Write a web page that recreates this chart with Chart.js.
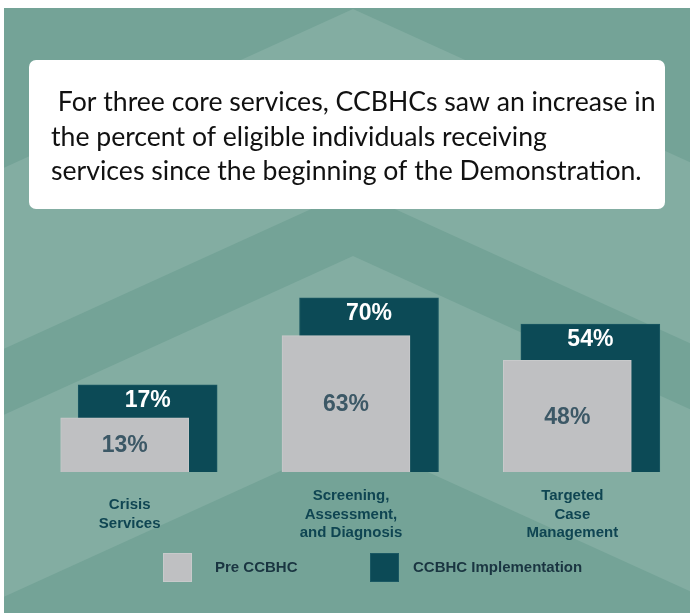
<!DOCTYPE html>
<html>
<head>
<meta charset="utf-8">
<title>CCBHC core services</title>
<script src="https://cdn.jsdelivr.net/npm/chart.js@4.4.1/dist/chart.umd.min.js"></script>
<style>
  html, body { margin: 0; padding: 0; background: #ffffff; }
  #wrap { position: relative; width: 690px; height: 613px; }
  canvas { display: block; }
</style>
</head>
<body>
<div id="wrap"><canvas id="chart" width="690" height="613"></canvas></div>
<script>
// ---- data ----
const titleLines = [
  " For three core services, CCBHCs saw an increase in",
  "the percent of eligible individuals receiving",
  "services since the beginning of the Demonstration."
];
const categories = [
  ["Crisis", "Services"],
  ["Screening,", "Assessment,", "and Diagnosis"],
  ["Targeted", "Case", "Management"]
];
const seriesNames = ["Pre CCBHC", "CCBHC Implementation"];
const preValues = [13, 63, 48];
const implValues = [17, 70, 54];

// ---- styling ----
const COLORS = {
  pre: '#bfc0c2',
  preEdge: '#c8cacb',
  impl: '#0c4a56',
  implEdge: '#1a5863',
  preText: '#3c5866',
  implText: '#ffffff',
  category: '#0f4552',
  legend: '#1a3541',
  base: '#74a397',
  band: '#83ada2',
  page: '#ffffff',
  titleText: '#111111'
};
const SANS_BOLD = '"Liberation Sans", Arial, sans-serif';
const TITLE_FONT = 'Lato, "Open Sans", sans-serif';

// value ranges of the two (hidden) value axes; bars rise from each axis floor
const preAxis = { min: -20, max: 115 };
const implAxis = { min: -36, max: 99 };
// the implementation bars sit a little to the right of the pre bars
const implShift = 0.104;

// chevron backdrop: light bands between pairs of apex heights
const backdrop = {
  left: 4, top: 8, apexX: 353, slope: 0.455,
  bands: [[9, 190], [256, 438]]
};

const backdropPlugin = {
  id: 'backdrop',
  beforeDraw(chart) {
    const { ctx, width, height } = chart;
    ctx.save();
    ctx.fillStyle = COLORS.page;
    ctx.fillRect(0, 0, width, height);
    ctx.fillStyle = COLORS.base;
    ctx.fillRect(backdrop.left, backdrop.top, width - backdrop.left, height - backdrop.top);
    ctx.beginPath();
    ctx.rect(backdrop.left, backdrop.top, width - backdrop.left, height - backdrop.top);
    ctx.clip();
    ctx.fillStyle = COLORS.band;
    const s = backdrop.slope, cx = backdrop.apexX;
    backdrop.bands.forEach(([a, b]) => {
      ctx.beginPath();
      ctx.moveTo(0, a + s * cx);
      ctx.lineTo(cx, a);
      ctx.lineTo(width, a + s * (width - cx));
      ctx.lineTo(width, b + s * (width - cx));
      ctx.lineTo(cx, b);
      ctx.lineTo(0, b + s * cx);
      ctx.closePath();
      ctx.fill();
    });
    ctx.restore();

    // heading card
    ctx.save();
    const box = { x: 29, y: 60, w: 636, h: 149, r: 7 };
    ctx.fillStyle = '#ffffff';
    ctx.beginPath();
    ctx.roundRect(box.x, box.y, box.w, box.h, box.r);
    ctx.fill();
    // size the heading so the first and last lines share the available width
    ctx.font = '100px ' + TITLE_FONT;
    const w1 = ctx.measureText(titleLines[0].trim()).width;
    const w3 = ctx.measureText(titleLines[2]).width;
    const size = 100 * (588 + 601) / (w1 + w3);
    ctx.font = size.toFixed(2) + 'px ' + TITLE_FONT;
    ctx.fillStyle = COLORS.titleText;
    ctx.textAlign = 'left';
    ctx.textBaseline = 'alphabetic';
    const baselines = [111, 145.5, 180];
    titleLines.forEach((line, i) => ctx.fillText(line, 51, baselines[i]));
    ctx.restore();
  }
};

const valueLabelPlugin = {
  id: 'valueLabels',
  afterDatasetsDraw(chart) {
    const ctx = chart.ctx;
    ctx.save();
    ctx.font = 'bold 23px ' + SANS_BOLD;
    ctx.textAlign = 'center';
    ctx.textBaseline = 'middle';
    chart.getDatasetMeta(1).data.forEach((bar, i) => {
      ctx.fillStyle = COLORS.implText;
      ctx.fillText(implValues[i] + '%', bar.x, bar.y + 16);
    });
    chart.getDatasetMeta(0).data.forEach((bar, i) => {
      ctx.fillStyle = COLORS.preText;
      ctx.fillText(preValues[i] + '%', bar.x, (bar.y + bar.base) / 2 + 1);
    });
    ctx.restore();
  }
};

const keyPlugin = {
  id: 'seriesKey',
  afterDraw(chart) {
    const ctx = chart.ctx;
    const items = [
      { swatchX: 163, textX: 215 },
      { swatchX: 370, textX: 413 }
    ];
    ctx.save();
    ctx.font = 'bold 15px ' + SANS_BOLD;
    ctx.textAlign = 'left';
    ctx.textBaseline = 'middle';
    chart.data.datasets.forEach((ds, i) => {
      const it = items[i];
      ctx.fillStyle = ds.backgroundColor;
      ctx.fillRect(it.swatchX, 553, 29, 29);
      ctx.strokeStyle = ds.borderColor;
      ctx.lineWidth = 1;
      ctx.strokeRect(it.swatchX + 0.5, 553.5, 28, 28);
      ctx.fillStyle = COLORS.legend;
      ctx.fillText(ds.label, it.textX, 568);
    });
    ctx.restore();
  }
};

new Chart(document.getElementById('chart'), {
  type: 'bar',
  data: {
    labels: categories,
    datasets: [
      {
        label: seriesNames[0],
        data: preValues,
        base: preAxis.min,
        grouped: false,
        backgroundColor: COLORS.pre,
        borderColor: COLORS.preEdge,
        borderWidth: 1,
        barThickness: 128,
        xAxisID: 'x',
        yAxisID: 'y'
      },
      {
        label: seriesNames[1],
        data: implValues.map((v, i) => ({ x: i, y: v })),
        base: implAxis.min,
        grouped: false,
        backgroundColor: COLORS.impl,
        borderColor: COLORS.implEdge,
        borderWidth: 1,
        barThickness: 139,
        xAxisID: 'xImpl',
        yAxisID: 'yImpl'
      }
    ]
  },
  options: {
    responsive: false,
    animation: false,
    devicePixelRatio: 1,
    layout: { padding: { left: 14, right: 12, top: 250, bottom: 46 } },
    plugins: {
      legend: { display: false },
      tooltip: { enabled: false },
      title: { display: false }
    },
    scales: {
      x: {
        type: 'category',
        offset: true,
        grid: { display: false },
        border: { display: false },
        ticks: {
          color: COLORS.category,
          font: { family: SANS_BOLD, size: 15, weight: 'bold', lineHeight: 1.22 },
          padding: 16,
          crossAlign: 'center',
          labelOffset: 5,
          maxRotation: 0,
          autoSkip: false
        }
      },
      xImpl: {
        type: 'linear',
        display: false,
        offset: false,
        min: -0.5 - implShift,
        max: categories.length - 0.5 - implShift
      },
      y: { type: 'linear', display: false, min: preAxis.min, max: preAxis.max },
      yImpl: { type: 'linear', display: false, min: implAxis.min, max: implAxis.max }
    }
  },
  plugins: [backdropPlugin, valueLabelPlugin, keyPlugin]
});
</script>
</body>
</html>
